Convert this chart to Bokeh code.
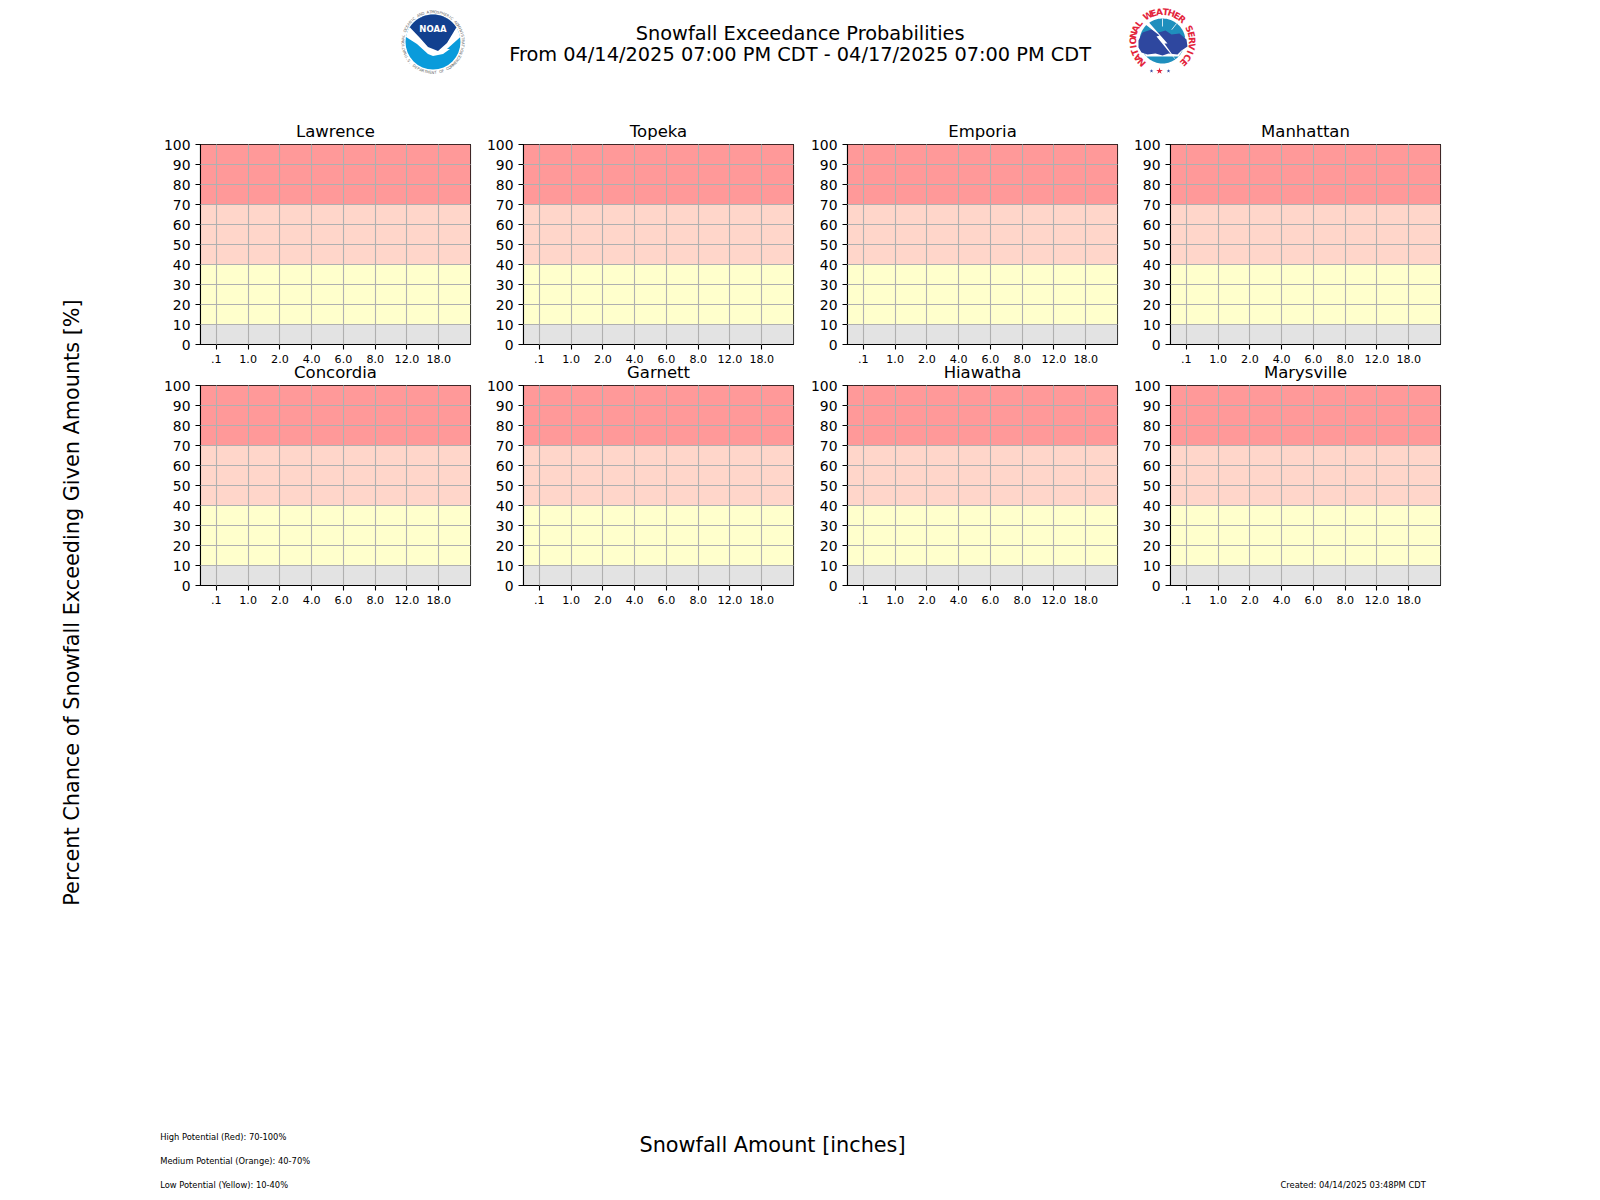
import numpy as np
from bokeh.embed import file_html
from bokeh.resources import INLINE
from bokeh.plotting import figure
from bokeh.layouts import column, row
from bokeh.models import Range1d, FixedTicker
from bokeh.core.properties import value

FONT = "DejaVu Sans"

# ---- chart content
stations_top = ["Lawrence", "Topeka", "Emporia", "Manhattan"]
stations_bottom = ["Concordia", "Garnett", "Hiawatha", "Marysville"]
snow_labels = [".1", "1.0", "2.0", "4.0", "6.0", "8.0", "12.0", "18.0"]
pct_ticks = [0, 10, 20, 30, 40, 50, 60, 70, 80, 90, 100]
band_low = [0, 10, 40, 70]
band_high = [10, 40, 70, 100]
band_colors = ["#e3e3e3", "#ffffcc", "#ffd6ca", "#ff9999"]
title_lines = ["Snowfall Exceedance Probabilities",
               "From 04/14/2025 07:00 PM CDT - 04/17/2025 07:00 PM CDT"]
x_label = "Snowfall Amount [inches]"
y_label = "Percent Chance of Snowfall Exceeding Given Amounts [%]"
notes = ["High Potential (Red): 70-100%", "Medium Potential (Orange): 40-70%", "Low Potential (Yellow): 10-40%"]
created = "Created: 04/14/2025 03:48PM CDT"

X_START, X_END = -0.5, 8.0


def panel(name, left, right, top, bottom):
    p = figure(width=left + 270 + right, height=top + 201 + bottom,
               x_range=Range1d(X_START, X_END), y_range=Range1d(0, 100),
               output_backend="svg", toolbar_location=None,
               min_border_left=left, min_border_right=right,
               min_border_top=top, min_border_bottom=bottom,
               background_fill_color="white", border_fill_color=None,
               outline_line_color="black", outline_line_width=1.1)
    p.title.text = name
    p.title.text_font = FONT
    p.title.text_font_size = "16.5px"
    p.title.text_font_style = "normal"
    p.title.text_color = "black"
    p.title.align = "center"
    p.title.text_line_height = 1.0
    p.title.standoff = 7
    p.title.offset = 0
    p.quad(left=X_START, right=X_END, bottom=band_low, top=band_high,
           fill_color=band_colors, line_color=None)
    xa, ya = p.xaxis[0], p.yaxis[0]
    xa.ticker = FixedTicker(ticks=list(range(len(snow_labels))))
    xa.major_label_overrides = {i: s for i, s in enumerate(snow_labels)}
    ya.ticker = FixedTicker(ticks=pct_ticks)
    for a in (xa, ya):
        a.axis_line_color = "black"
        a.axis_line_width = 1.1
        a.major_tick_line_color = "black"
        a.major_tick_line_width = 1.1
        a.major_tick_in = 0
        a.major_tick_out = 5
        a.minor_tick_line_color = None
        a.major_label_text_font = FONT
        a.major_label_text_color = "black"
    xa.major_label_text_font_size = "11.1px"
    ya.major_label_text_font_size = "13.9px"
    xa.major_label_standoff = 5
    ya.major_label_standoff = 5
    for g in (p.xgrid[0], p.ygrid[0]):
        g.grid_line_color = "#b0b0b0"
        g.grid_line_width = 1.1
        g.level = "annotation"
    return p


def blank(w, h):
    p = figure(width=w, height=h, x_range=Range1d(0, w), y_range=Range1d(h, 0),
               x_axis_type=None, y_axis_type=None, output_backend="svg",
               toolbar_location=None, min_border=0, outline_line_color=None,
               background_fill_color=None, border_fill_color=None)
    p.grid.visible = False
    return p


def txt(p, x, y, s, size, align="center", angle=0.0, color="black", style="normal", baseline="middle"):
    p.text(x=[x], y=[y], text=[s], angle=[angle], text_font=value(FONT),
           text_font_size=size, text_align=align, text_baseline=baseline,
           text_color=color, text_font_style=style)


def arc_text(p, cx, cy, r, s, a0, a1, size, color, style="normal", bottom=False):
    th = np.radians(np.linspace(a0, a1, len(s)))
    if bottom:
        xs, ys, ang = cx + r * np.sin(th), cy + r * np.cos(th), th
    else:
        xs, ys, ang = cx + r * np.sin(th), cy - r * np.cos(th), -th
    p.text(x=xs, y=ys, text=list(s), angle=ang, text_font=value(FONT), text_font_size=size,
           text_align="center", text_baseline="middle", text_color=color, text_font_style=style)


def poly(p, cx, cy, pts, color):
    a = np.array(pts, dtype=float)
    p.patch(cx + a[:, 0], cy + a[:, 1], fill_color=color, line_color=None)


def arc_pts(r, a0, a1, n=40):
    t = np.radians(np.linspace(a0, a1, n))
    return list(zip(r * np.sin(t), -r * np.cos(t)))


def noaa_logo(p, cx, cy):
    p.circle(x=[cx], y=[cy], radius=33, fill_color="white", line_color=None)
    p.circle(x=[cx], y=[cy], radius=27.5, fill_color="#0a9bdb", line_color=None)
    poly(p, cx, cy, arc_pts(27.5, -80, 80) +
         [(14, 7), (17, 7), (10, 12), (0, 14), (-5, 12), (-16, 2), (-27, -5)], "white")
    poly(p, cx, cy, arc_pts(27.5, -58, 58) +
         [(14, 1), (5, 9), (-5, 5), (-13, -4), (-23, -14.5)], "#12408f")
    txt(p, cx, cy - 13, "NOAA", "8.5px", color="white", style="bold")
    arc_text(p, cx, cy, 30.3, "NATIONAL OCEANIC AND ATMOSPHERIC ADMINISTRATION", -112, 112, "3.8px", "#666666")
    arc_text(p, cx, cy, 30.3, "U.S. DEPARTMENT OF COMMERCE", -62, 62, "3.8px", "#666666", bottom=True)


def nws_logo(p, cx, cy):
    p.circle(x=[cx], y=[cy], radius=25, fill_color="white", line_color=None)
    # dome
    poly(p, cx, cy, arc_pts(23, -80, 80) + [(18, -2), (-18, -2)], "#1f8fbd")
    for a in (-38, 0, 38):
        t = np.radians(a)
        p.line([cx + 15 * np.sin(t), cx + 23 * np.sin(t)], [cy - 15 * np.cos(t), cy - 23 * np.cos(t)],
               line_color="white", line_width=0.8)
    # lower band
    poly(p, cx, cy, arc_pts(22, 112, 248) + [(-16, 15), (16, 15)], "#1f8fbd")
    # cloud
    poly(p, cx, cy, [(-24, 6), (-24, -1), (-20, -9), (-11, -12), (-4, -9), (3, -11), (9, -7), (17, -8),
                     (24, -2), (25, 5), (19, 9), (15, 13), (6, 12), (0, 14), (-7, 12), (-15, 13), (-21, 11)],
         "#2e479f")
    # lightning
    poly(p, cx, cy, [(-22, -21), (-3, -6), (-6, -5), (16, 22), (2, 2), (5, 2), (-17, -23)], "white")
    arc_text(p, cx, cy, 29.5, "NATIONAL WEATHER SERVICE", -135, 135, "9px", "#e3243b", style="bold")
    p.star(x=[cx - 11, cx - 3, cx + 6], y=[cy + 29.5] * 3, size=[4, 7, 4],
           fill_color=["#2e479f", "#e3243b", "#2e479f"], line_color=None)


# ---- left strip: rotated y label
left = blank(108, 1192)
txt(left, 71.5, 602, y_label, "20.8px", angle=np.pi / 2)

# ---- header
header = blank(1484, 114)
txt(header, 691.6, 33, title_lines[0], "19.35px")
txt(header, 691.6, 54, title_lines[1], "19.35px")
noaa_logo(header, 324.5, 41.5)
nws_logo(header, 1054, 41)

# ---- panels
lefts = [92, 51, 52, 51]
rights = [2, 2, 2, 10]
row1 = row(*[panel(n, l, r, 30, 20) for n, l, r in zip(stations_top, lefts, rights)])
row2 = row(*[panel(n, l, r, 30, 20) for n, l, r in zip(stations_bottom, lefts, rights)],
           margin=(-10, 0, 0, 0))

# ---- footer
footer = blank(1484, 586)
for s, yy in zip(notes, (530, 554, 578)):
    txt(footer, 51.7, yy, s, "8.33px", align="left")
txt(footer, 664, 538.6, x_label, "20.8px")
txt(footer, 1172, 578, created, "8.33px", align="left")

page = row(left, column(header, row1, row2, footer))
open("out.html", "w").write(file_html(page, INLINE))
